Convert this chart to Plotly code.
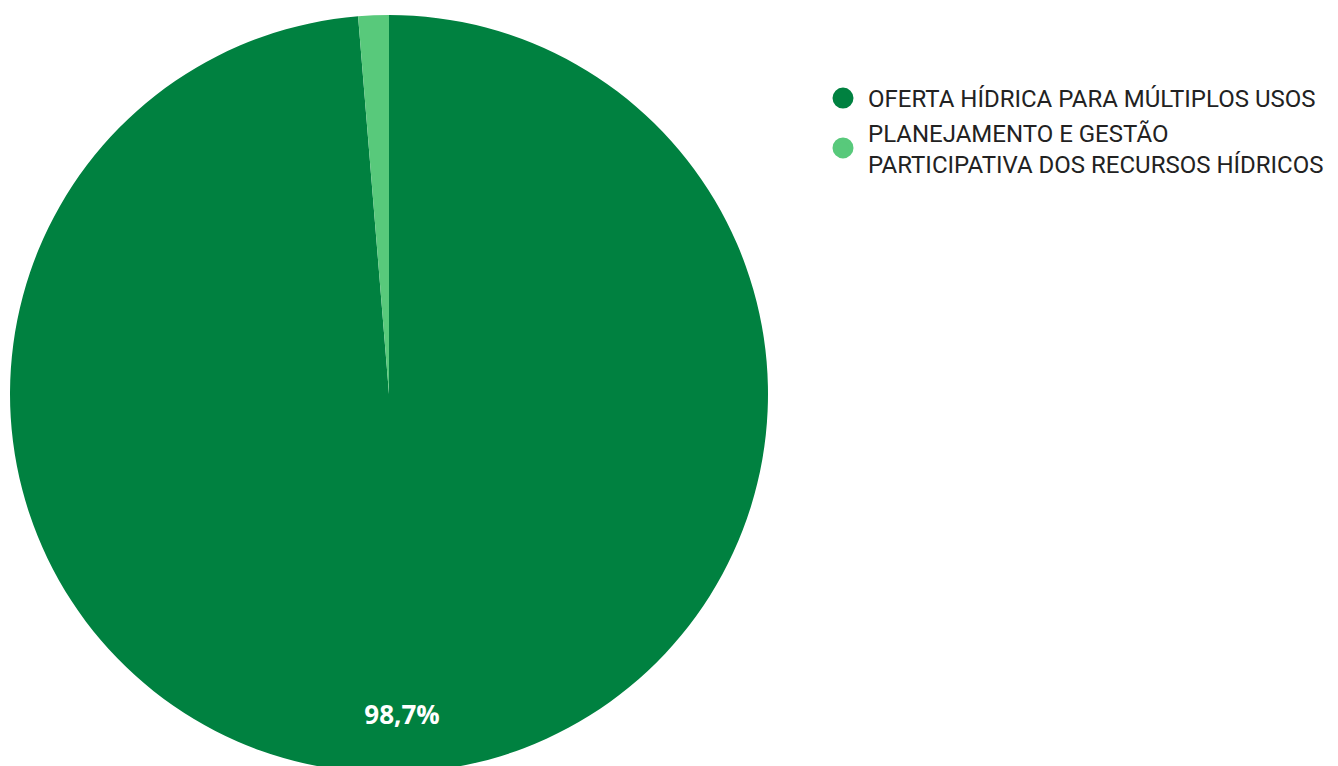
import plotly.graph_objects as go

labels = ["OFERTA HÍDRICA PARA MÚLTIPLOS USOS",
          "PLANEJAMENTO E GESTÃO<br>PARTICIPATIVA DOS RECURSOS HÍDRICOS"]
values = [98.7, 1.3]
colors = ["#008140", "#58C97B"]
text_tmpl = ["%{percent:.1%}", ""]

W, H = 1338, 766
OFF = 8  # browser body margin
dom = dict(x=[(10 - OFF) / W, (768 - OFF) / W], y=[0.0, 1 - (14 - OFF) / H])

fig = go.Figure()
# main pie
fig.add_trace(go.Pie(
    labels=labels, values=values, sort=False, direction="clockwise", rotation=0,
    marker=dict(colors=colors, line=dict(width=0)),
    textinfo="none", showlegend=False, domain=dom,
    hoverinfo="label+percent",
))
# transparent ring carrying the percentage label
fig.add_trace(go.Pie(
    labels=labels, values=values, sort=False, direction="clockwise", rotation=0,
    hole=0.69, marker=dict(colors=["rgba(0,0,0,0)"] * 2, line=dict(width=0)),
    texttemplate=text_tmpl, textposition="inside", insidetextorientation="horizontal",
    textfont=dict(family="Open Sans", size=26, color="white", weight="bold"),
    showlegend=False, domain=dom, hoverinfo="skip",
))
# legend entries with circular markers
for lab, col in zip(labels, colors):
    fig.add_trace(go.Scatter(x=[None], y=[None], mode="markers", name=lab,
                             marker=dict(color=col, size=16, symbol="circle",
                                         line=dict(color=col, width=5)),
                             hoverinfo="skip"))

fig.update_layout(
    width=W, height=H, margin=dict(l=0, r=0, t=0, b=0),
    paper_bgcolor="white", plot_bgcolor="white", separators=",.",
    xaxis=dict(visible=False), yaxis=dict(visible=False),
    legend=dict(x=(818 - OFF) / W, y=1 - (76 - OFF) / H, xanchor="left", yanchor="top",
                font=dict(family="Roboto", size=24, color="#222222"),
                itemsizing="trace", itemwidth=40, tracegroupgap=0),
)
fig.write_html("out.html")
